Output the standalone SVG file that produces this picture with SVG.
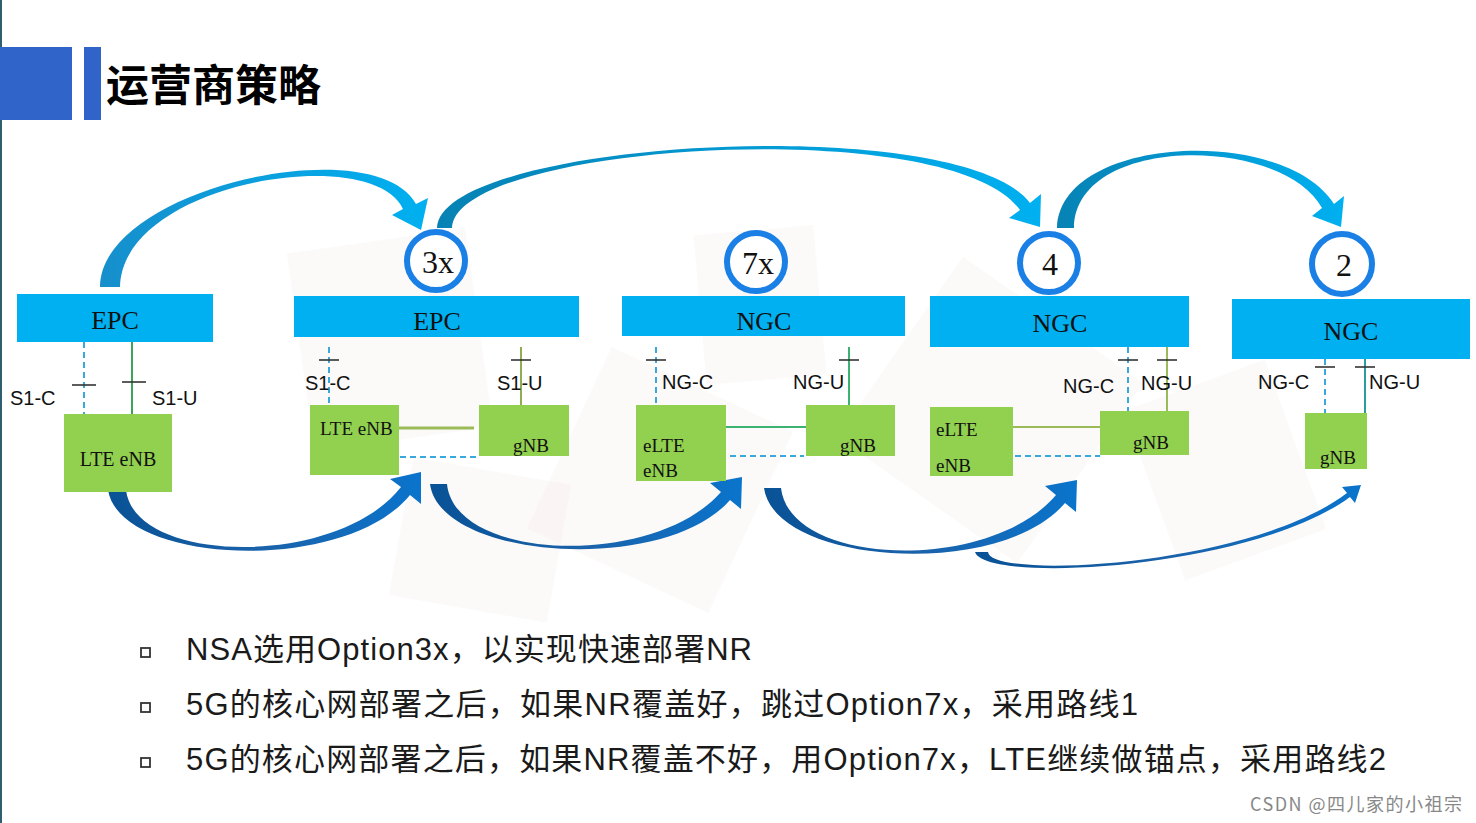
<svg xmlns="http://www.w3.org/2000/svg" width="1476" height="823" viewBox="0 0 1476 823">
<style>
.core{fill:#00b0f0}
.ran{fill:#92d050}
.ser{font-family:"Liberation Serif","Times New Roman",serif;fill:#111}
.lbl{font-family:"Liberation Sans",Arial,sans-serif;font-size:20px;fill:#111}
.circ{fill:#fff;stroke:#1a80e6;stroke-width:6}
.dash{stroke:#3aa8dc;stroke-width:2;stroke-dasharray:6 4;fill:none}
.tick{stroke:#333;stroke-width:1.6}
.bul{fill:none;stroke:#333;stroke-width:1.8}
.txt{font-family:"Liberation Sans","Noto Sans CJK SC",sans-serif;font-size:31px;fill:#1a1a1a}
.bg{fill:#f2e6e7;opacity:0.25}
</style>
<defs>
<linearGradient id="gTop1" x1="0" y1="0" x2="1" y2="0"><stop offset="0" stop-color="#168fcc"/><stop offset="1" stop-color="#00b0f0"/></linearGradient>
<linearGradient id="gTop2" x1="0" y1="0" x2="1" y2="0"><stop offset="0" stop-color="#0782b4"/><stop offset="1" stop-color="#00b0f0"/></linearGradient>
<linearGradient id="gBot" x1="0" y1="0" x2="1" y2="0"><stop offset="0" stop-color="#0a5296"/><stop offset="0.5" stop-color="#1a62aa"/><stop offset="1" stop-color="#0a74cc"/></linearGradient>
</defs>
<rect width="1476" height="823" fill="#fff"/>
<g id="background">
<rect class="bg" x="300" y="240" width="180" height="200" transform="rotate(-8 390 340)"/>
<rect class="bg" x="560" y="380" width="200" height="200" transform="rotate(25 660 480)"/>
<rect class="bg" x="880" y="300" width="220" height="220" transform="rotate(35 990 410)"/>
<rect class="bg" x="1150" y="380" width="150" height="180" transform="rotate(-20 1225 470)"/>
<rect class="bg" x="400" y="470" width="160" height="140" transform="rotate(10 480 540)"/>
<rect class="bg" x="700" y="230" width="120" height="150" transform="rotate(-5 760 305)"/>
</g>
<line x1="1" y1="0" x2="1" y2="823" stroke="#2f5f6f" stroke-width="2"/>
<g id="title">
<rect x="0" y="47" width="72" height="73" fill="#3064c8"/>
<rect x="84" y="47" width="17" height="73" fill="#3064c8"/>
<text x="106" y="101" font-family="Noto Sans CJK SC,sans-serif" font-weight="bold" font-size="43" fill="#000">运营商策略</text>
</g>
<g id="connectors">
<line class="dash" x1="84" y1="342" x2="84" y2="414"/>
<line x1="132" y1="342" x2="132" y2="414" stroke="#3aa655" stroke-width="2"/>
<line class="tick" x1="72" y1="385" x2="96" y2="385"/>
<line class="tick" x1="122" y1="382" x2="146" y2="382"/>
<line class="dash" x1="329" y1="347" x2="329" y2="405"/>
<line x1="521" y1="347" x2="521" y2="405" stroke="#8fae52" stroke-width="2"/>
<line class="tick" x1="319" y1="360" x2="339" y2="360"/>
<line class="tick" x1="511" y1="360" x2="531" y2="360"/>
<line x1="399" y1="428" x2="474" y2="428" stroke="#9bbb59" stroke-width="3"/>
<line class="dash" x1="400" y1="457" x2="476" y2="457"/>
<line class="dash" x1="656" y1="347" x2="656" y2="405"/>
<line x1="849" y1="347" x2="849" y2="405" stroke="#3cb371" stroke-width="2"/>
<line class="tick" x1="646" y1="360" x2="666" y2="360"/>
<line class="tick" x1="839" y1="360" x2="859" y2="360"/>
<line x1="726" y1="427" x2="806" y2="427" stroke="#3cb371" stroke-width="2"/>
<line class="dash" x1="730" y1="456" x2="804" y2="456"/>
<line class="dash" x1="1128" y1="347" x2="1128" y2="411"/>
<line x1="1167" y1="347" x2="1167" y2="411" stroke="#9bbb59" stroke-width="2"/>
<line class="tick" x1="1118" y1="360" x2="1138" y2="360"/>
<line class="tick" x1="1157" y1="360" x2="1177" y2="360"/>
<line x1="1013" y1="427" x2="1100" y2="427" stroke="#9bbb59" stroke-width="2"/>
<line class="dash" x1="1015" y1="456" x2="1100" y2="456"/>
<line class="dash" x1="1325" y1="359" x2="1325" y2="413"/>
<line x1="1365" y1="359" x2="1365" y2="413" stroke="#2a9d9d" stroke-width="2"/>
<line class="tick" x1="1315" y1="367" x2="1335" y2="367"/>
<line class="tick" x1="1355" y1="367" x2="1375" y2="367"/>
<path fill="url(#gTop1)" d="M100,287 C100,188 375,128 416,204 L428,198 L421,230 L392,215 L403,209 C372,142 122,182 120,287 Z"/>
<path fill="url(#gTop2)" d="M437,228 C440,140 960,110 1030,203 L1041,194 L1040,227 L1009,218 L1020,210 C952,112 455,143 452,228 Z"/>
<path fill="url(#gTop2)" d="M1057,228 C1060,135 1284,125 1334,204 L1344,196 L1341,227 L1312,216 L1322,208 C1282,135 1075,134 1074,228 Z"/>
<path fill="url(#gBot)" d="M108,490 C120,565 345,575 410,495 L421,504 L421,472 L390,479 L401,487 C338,568 135,565 126,490 Z"/>
<path fill="url(#gBot)" d="M430,484 C440,560 665,575 730,500 L741,509 L742,477 L710,483 L721,492 C655,568 455,562 447,484 Z"/>
<path fill="url(#gBot)" d="M764,488 C775,565 1000,580 1065,503 L1076,512 L1077,480 L1045,486 L1056,495 C990,573 790,567 781,488 Z"/>
<path fill="url(#gBot)" d="M975,552 C985,584 1250,570 1350,497 L1355,503 L1361,485 L1342,487 L1347,493 C1250,567 990,580 988,552 Z"/>
</g>
<g id="p1-epc"><rect class="core" x="17" y="294" width="196" height="48"/><text class="ser" x="115" y="329" font-size="26" text-anchor="middle">EPC</text></g>
<g id="p1-enb"><rect class="ran" x="64" y="414" width="108" height="78"/><text class="ser" x="118" y="466" font-size="20" text-anchor="middle">LTE eNB</text></g>
<g id="p1-labels"><text class="lbl" x="10" y="405">S1-C</text><text class="lbl" x="152" y="405">S1-U</text></g>

<g id="c3x"><circle class="circ" cx="436" cy="261" r="29"/><text class="ser" x="438" y="273" font-size="32" text-anchor="middle">3x</text></g>
<g id="p2-epc"><rect class="core" x="294" y="296" width="285" height="41"/><text class="ser" x="437" y="330" font-size="26" text-anchor="middle">EPC</text></g>
<g id="p2-enb"><rect class="ran" x="310" y="405" width="89" height="70"/><text class="ser" x="320" y="435" font-size="19">LTE eNB</text></g>
<g id="p2-gnb"><rect class="ran" x="479" y="405" width="90" height="51"/><text class="ser" x="513" y="452" font-size="19">gNB</text></g>
<g id="p2-labels"><text class="lbl" x="305" y="390">S1-C</text><text class="lbl" x="497" y="390">S1-U</text></g>

<g id="c7x"><circle class="circ" cx="756" cy="262" r="29"/><text class="ser" x="758" y="274" font-size="32" text-anchor="middle">7x</text></g>
<g id="p3-ngc"><rect class="core" x="622" y="296" width="283" height="40"/><text class="ser" x="764" y="330" font-size="26" text-anchor="middle">NGC</text></g>
<g id="p3-enb"><rect class="ran" x="636" y="405" width="90" height="76"/><text class="ser" x="643" y="452" font-size="19">eLTE</text><text class="ser" x="643" y="477" font-size="19">eNB</text></g>
<g id="p3-gnb"><rect class="ran" x="806" y="405" width="89" height="51"/><text class="ser" x="840" y="452" font-size="19">gNB</text></g>
<g id="p3-labels"><text class="lbl" x="662" y="389">NG-C</text><text class="lbl" x="793" y="389">NG-U</text></g>

<g id="c4"><circle class="circ" cx="1049" cy="263" r="29"/><text class="ser" x="1050" y="275" font-size="32" text-anchor="middle">4</text></g>
<g id="p4-ngc"><rect class="core" x="930" y="296" width="259" height="51"/><text class="ser" x="1060" y="332" font-size="26" text-anchor="middle">NGC</text></g>
<g id="p4-enb"><rect class="ran" x="930" y="407" width="83" height="69"/><text class="ser" x="936" y="436" font-size="19">eLTE</text><text class="ser" x="936" y="472" font-size="19">eNB</text></g>
<g id="p4-gnb"><rect class="ran" x="1100" y="411" width="89" height="44"/><text class="ser" x="1133" y="449" font-size="19">gNB</text></g>
<g id="p4-labels"><text class="lbl" x="1063" y="393">NG-C</text><text class="lbl" x="1141" y="390">NG-U</text></g>

<g id="c2"><circle class="circ" cx="1342" cy="264" r="30"/><text class="ser" x="1344" y="276" font-size="32" text-anchor="middle">2</text></g>
<g id="p5-ngc"><rect class="core" x="1232" y="299" width="238" height="60"/><text class="ser" x="1351" y="340" font-size="26" text-anchor="middle">NGC</text></g>
<g id="p5-gnb"><rect class="ran" x="1305" y="413" width="62" height="56"/><text class="ser" x="1320" y="464" font-size="19">gNB</text></g>
<g id="p5-labels"><text class="lbl" x="1258" y="389">NG-C</text><text class="lbl" x="1369" y="389">NG-U</text></g>

<g id="bullets">
<rect class="bul" x="141" y="648" width="9" height="9"/>
<rect class="bul" x="141" y="703" width="9" height="9"/>
<rect class="bul" x="141" y="758" width="9" height="9"/>
<text class="txt" x="186" y="660" textLength="566">NSA选用Option3x，以实现快速部署NR</text>
<text class="txt" x="186" y="715" textLength="952">5G的核心网部署之后，如果NR覆盖好，跳过Option7x，采用路线1</text>
<text class="txt" x="186" y="770" textLength="1200">5G的核心网部署之后，如果NR覆盖不好，用Option7x，LTE继续做锚点，采用路线2</text>
</g>
<text x="1250" y="811" font-family="Noto Sans CJK SC,sans-serif" font-size="18" fill="#888" textLength="212">CSDN @四儿家的小祖宗</text>
</svg>
